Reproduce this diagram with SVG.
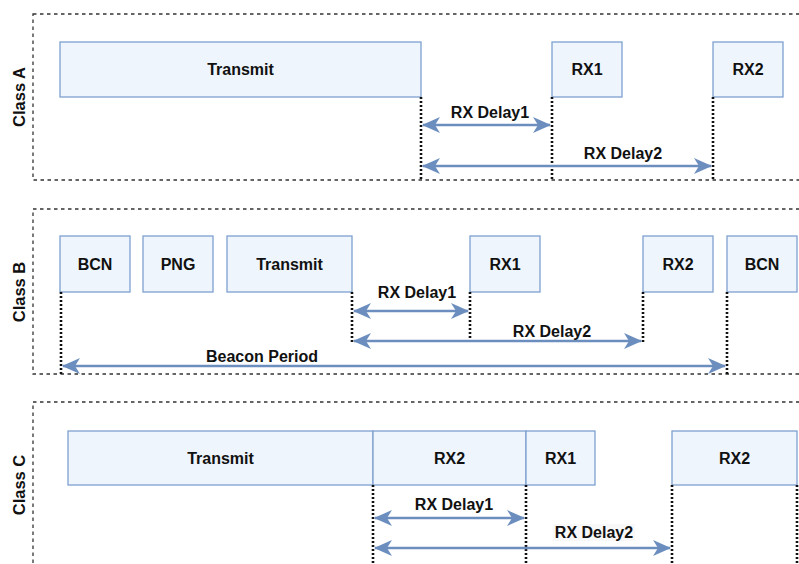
<svg xmlns="http://www.w3.org/2000/svg" width="799" height="564" viewBox="0 0 799 564">
<defs>
<style>
.panel{fill:none;stroke:#333;stroke-width:1.3;stroke-dasharray:3.5 3.5}
.box{fill:#eef5fd;stroke:#7ea0d0;stroke-width:1.3}
.t{font-family:"Liberation Sans",Arial,sans-serif;font-weight:bold;font-size:16px;fill:#111;text-anchor:middle;dominant-baseline:central}
.cl{font-family:"Liberation Sans",Arial,sans-serif;font-weight:bold;font-size:16.5px;fill:#111;text-anchor:middle;dominant-baseline:central}
.dot{stroke:#111;stroke-width:2.6;stroke-dasharray:2 2;fill:none}
.arr{stroke:#6c8ebf;stroke-width:2.6;fill:none;marker-start:url(#ah);marker-end:url(#ah)}
</style>
<marker id="ah" markerUnits="userSpaceOnUse" viewBox="-19 -10 21 20" refX="0" refY="0" markerWidth="21" markerHeight="20" orient="auto-start-reverse">
<path d="M1,0 L-17,-8 L-12,0 L-17,8 Z" fill="#6c8ebf"/>
</marker>
</defs>

<g id="panelA">
<rect class="panel" x="33" y="14" width="780" height="166"/>
<text class="cl" transform="translate(19,97) rotate(-90)">Class A</text>
</g>
<g id="panelB">
<rect class="panel" x="33" y="209" width="780" height="165"/>
<text class="cl" transform="translate(19,292) rotate(-90)">Class B</text>
</g>
<g id="panelC">
<rect class="panel" x="33" y="402" width="780" height="200"/>
<text class="cl" transform="translate(19,485) rotate(-90)">Class C</text>
</g>

<g id="a-transmit"><rect class="box" x="60" y="42" width="361" height="55"/><text class="t" x="240.5" y="69.5">Transmit</text></g>
<g id="a-rx1"><rect class="box" x="552" y="42" width="70" height="55"/><text class="t" x="587" y="69.5">RX1</text></g>
<g id="a-rx2"><rect class="box" x="713" y="42" width="70" height="55"/><text class="t" x="748" y="69.5">RX2</text></g>

<g id="b-bcn1"><rect class="box" x="60" y="236" width="70" height="56"/><text class="t" x="95" y="264">BCN</text></g>
<g id="b-png"><rect class="box" x="143" y="236" width="70" height="56"/><text class="t" x="178" y="264">PNG</text></g>
<g id="b-transmit"><rect class="box" x="227" y="236" width="125" height="56"/><text class="t" x="289.5" y="264">Transmit</text></g>
<g id="b-rx1"><rect class="box" x="470" y="236" width="70" height="56"/><text class="t" x="505" y="264">RX1</text></g>
<g id="b-rx2"><rect class="box" x="643" y="236" width="70" height="56"/><text class="t" x="678" y="264">RX2</text></g>
<g id="b-bcn2"><rect class="box" x="727" y="236" width="70" height="56"/><text class="t" x="762" y="264">BCN</text></g>

<g id="c-transmit"><rect class="box" x="68" y="431" width="305" height="54"/><text class="t" x="220.5" y="458">Transmit</text></g>
<g id="c-rx2a"><rect class="box" x="373" y="431" width="153" height="54"/><text class="t" x="449.5" y="458">RX2</text></g>
<g id="c-rx1"><rect class="box" x="526" y="431" width="69" height="54"/><text class="t" x="560.5" y="458">RX1</text></g>
<g id="c-rx2b"><rect class="box" x="672" y="431" width="125" height="54"/><text class="t" x="734.5" y="458">RX2</text></g>

<g id="connectors">
<path class="dot" d="M421,97V180 M552,97V180 M713,97V180"/>
<path class="arr" d="M423,125H550"/>
<path class="arr" d="M423,166H711"/>
<text class="t" x="490" y="112">RX Delay1</text>
<text class="t" x="623" y="153">RX Delay2</text>

<path class="dot" d="M61,292V375 M352,292V343 M470,292V343 M643,292V343 M727,292V375"/>
<path class="arr" d="M354,311H468"/>
<path class="arr" d="M354,341H641"/>
<path class="arr" d="M63,366H725"/>
<text class="t" x="417" y="292">RX Delay1</text>
<text class="t" x="552" y="331">RX Delay2</text>
<text class="t" x="262" y="356">Beacon Period</text>

<path class="dot" d="M373,485V564 M526,485V564 M672,485V564 M797,485V564"/>
<path class="arr" d="M375,518H524"/>
<path class="arr" d="M375,548H670"/>
<text class="t" x="454" y="504">RX Delay1</text>
<rect x="553" y="524" width="82" height="17" fill="#f8f8f8"/>
<text class="t" x="594" y="532">RX Delay2</text>
</g>
</svg>
